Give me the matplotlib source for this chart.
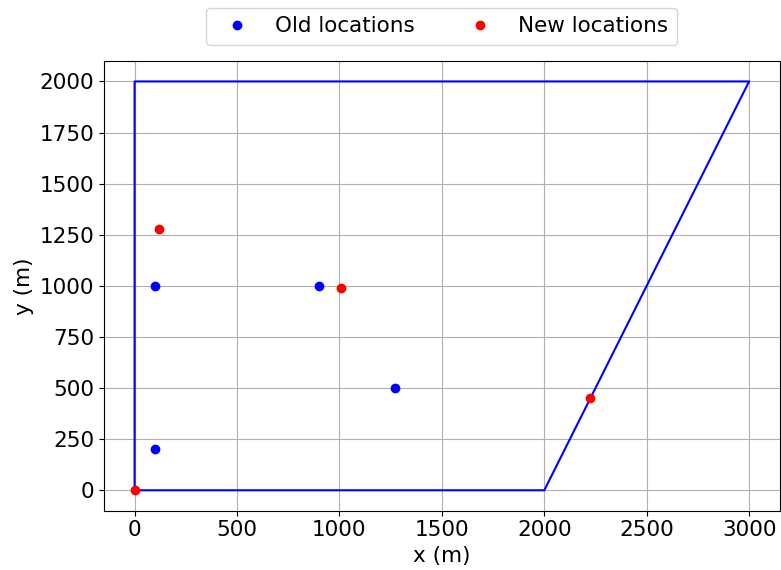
import matplotlib
matplotlib.use("Agg")
import matplotlib.pyplot as plt

# domain boundary
boundary_x = [0, 2000, 3000, 0, 0]
boundary_y = [0, 0, 2000, 2000, 0]

# point locations
old_x = [100, 900, 1270, 100]
old_y = [1000, 1000, 500, 200]
new_x = [0, 120, 1010, 2225]
new_y = [0, 1280, 990, 450]

plt.rcParams["font.size"] = 15.5

fig, ax = plt.subplots(figsize=(7.81, 5.70), dpi=100)
fig.subplots_adjust(left=0.133, right=0.9985, top=0.893, bottom=0.104)

ax.plot(boundary_x, boundary_y, color="blue")
ax.plot(old_x, old_y, "o", color="blue", label="Old locations")
ax.plot(new_x, new_y, "o", color="red", label="New locations")

ax.set_xlabel("x (m)", labelpad=4)
ax.set_ylabel("y (m)", labelpad=4)
ax.grid(True)
ax.legend(loc="lower center", bbox_to_anchor=(0.5, 1.012), ncol=2)

fig.savefig("out.png")
